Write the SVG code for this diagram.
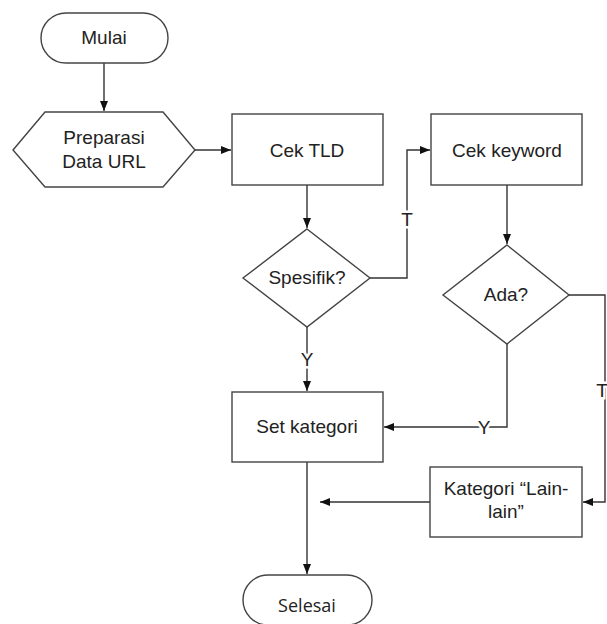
<svg xmlns="http://www.w3.org/2000/svg" width="607" height="624" viewBox="0 0 607 624">
<style>
.shape{fill:#fff;stroke:#444;stroke-width:1.4}
.conn{fill:none;stroke:#333;stroke-width:1.4}
text{font-family:"Liberation Sans",Arial,sans-serif;font-size:19px;fill:#222;text-anchor:middle}
.lbl{paint-order:stroke;stroke:#fff;stroke-width:5px}
</style>
<defs>
<marker id="arr" markerUnits="userSpaceOnUse" markerWidth="11" markerHeight="9" refX="10" refY="4" orient="auto">
<path d="M0,0 L10,4 L0,8 z" fill="#111"/>
</marker>
</defs>
<rect width="607" height="624" fill="#fff"/>
<g id="connectors">
<path class="conn" d="M104,63 V111" marker-end="url(#arr)"/>
<path class="conn" d="M195,150 H231" marker-end="url(#arr)"/>
<path class="conn" d="M307,185 V228" marker-end="url(#arr)"/>
<path class="conn" d="M370,278 H407 V150 H430" marker-end="url(#arr)"/>
<path class="conn" d="M507,185 V244" marker-end="url(#arr)"/>
<path class="conn" d="M307,327 V391" marker-end="url(#arr)"/>
<path class="conn" d="M507,344 V427 H384" marker-end="url(#arr)"/>
<path class="conn" d="M569,295 H605 V502 H583" marker-end="url(#arr)"/>
<path class="conn" d="M430,502 H320" marker-end="url(#arr)"/>
<path class="conn" d="M307,462 V574" marker-end="url(#arr)"/>
<text class="lbl" x="407" y="226">T</text>
<text class="lbl" x="307" y="366">Y</text>
<text class="lbl" x="484" y="434">Y</text>
<text class="lbl" x="602" y="397">T</text>
</g>
<g id="mulai">
<rect class="shape" x="41" y="13" width="127" height="50" rx="25"/>
<text x="104" y="44">Mulai</text>
</g>
<g id="preparasi">
<polygon class="shape" points="13,150 45,112 163,112 195,150 163,187 45,187"/>
<text x="104" y="144">Preparasi</text>
<text x="104" y="168">Data URL</text>
</g>
<g id="cek-tld">
<rect class="shape" x="232" y="114" width="151" height="71"/>
<text x="307" y="157">Cek TLD</text>
</g>
<g id="spesifik">
<polygon class="shape" points="307,229 370,278 307,327 243,278"/>
<text x="307" y="284">Spesifik?</text>
</g>
<g id="cek-keyword">
<rect class="shape" x="431" y="114" width="151" height="71"/>
<text x="507" y="157">Cek keyword</text>
</g>
<g id="ada">
<polygon class="shape" points="507,245 569,295 507,344 443,295"/>
<text x="506" y="301">Ada?</text>
</g>
<g id="set-kategori">
<rect class="shape" x="232" y="392" width="151" height="70"/>
<text x="307" y="433">Set kategori</text>
</g>
<g id="kategori-lain">
<rect class="shape" x="430" y="467" width="152" height="70"/>
<text x="506" y="495">Kategori “Lain-</text>
<text x="506" y="518">lain”</text>
</g>
<g id="selesai">
<rect class="shape" x="243" y="575" width="129" height="50" rx="25"/>
<text x="307" y="612" style="font-family:'Open Sans','Liberation Sans',sans-serif;font-size:18px">Selesai</text>
</g>
</svg>
